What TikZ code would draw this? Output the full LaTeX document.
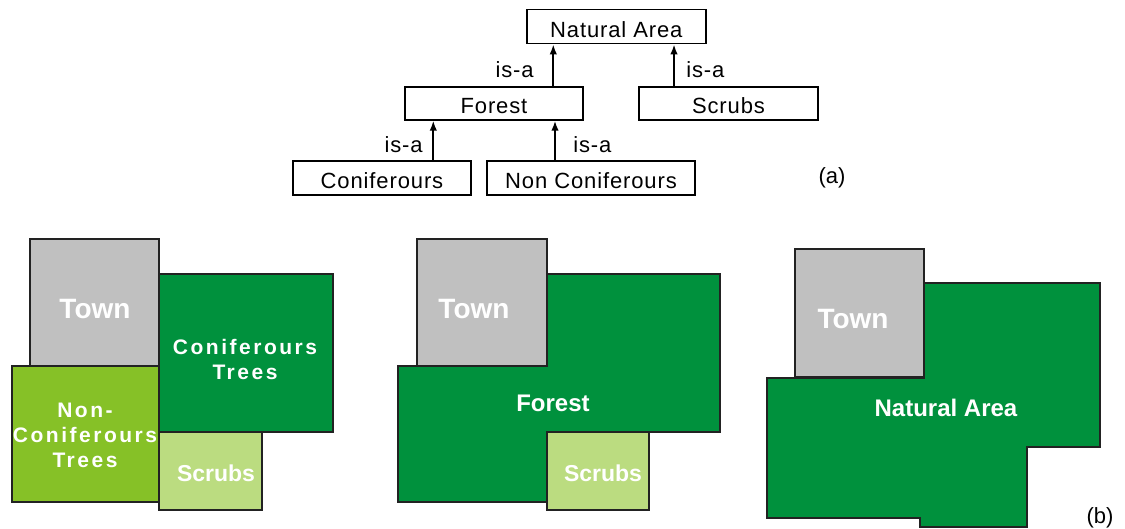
\documentclass[tikz,border=0pt]{standalone}
\usepackage{fontspec}
\setmainfont{Liberation Sans}
\newfontfamily\treefont[LetterSpace=4]{Liberation Sans}
\newfontfamily\widefont[LetterSpace=12]{Liberation Sans}
\usetikzlibrary{arrows.meta}

\definecolor{towngray}{HTML}{C0C0C0}
\definecolor{forestgreen}{HTML}{00913D}
\definecolor{leafgreen}{HTML}{86C127}
\definecolor{scrubgreen}{HTML}{BBDC80}
\definecolor{edgeline}{HTML}{222222}

\tikzset{
  cls/.style={draw=black, line width=1.5pt, minimum height=34pt, inner sep=0pt,
    text height=21pt, text depth=0pt,
    font=\treefont\fontsize{22}{25}\selectfont},
  isa/.style={line width=1.7pt, -{Latex[length=10pt,width=7.5pt]}},
  isalabel/.style={inner sep=0pt, font=\treefont\fontsize{22}{25}\selectfont},
  tag/.style={inner sep=0pt, font=\fontsize{22}{25}\selectfont},
  region/.style={draw=edgeline, line width=2pt, line join=miter},
  maptext/.style={text=white, inner sep=0pt, align=center,
    font=\bfseries\fontsize{#1}{25}\selectfont},
  widetext/.style={text=white, inner sep=0pt, align=center,
    font=\widefont\bfseries\fontsize{21}{25}\selectfont},
}

\begin{document}
\begin{tikzpicture}[x=1pt, y=-1pt]
\useasboundingbox (0,0) rectangle (1125,529);

% ---- class hierarchy ----
\node[cls, minimum width=179pt] (na)   at (616.3,26.7) {Natural Area};
\node[cls, minimum width=178pt, minimum height=33pt] (forest) at (494,103.5) {Forest};
\node[cls, minimum width=179pt, minimum height=33pt] (scrubs) at (728.5,103.5) {Scrubs};
\node[cls, minimum width=178pt] (conif)  at (382,178) {Coniferours};
\node[cls, minimum width=208pt] (nconif) at (591,178) {Non Coniferours};

\draw[isa] ([xshift=59.3pt]forest.north) -- ([xshift=59.3pt]forest.north |- na.south)
  node[isalabel, midway, left=18.8pt, yshift=-4.5pt] {is-a};
\draw[isa] ([xshift=-54.5pt]scrubs.north) -- ([xshift=-54.5pt]scrubs.north |- na.south)
  node[isalabel, midway, right=11.5pt, yshift=-4.5pt] {is-a};
\draw[isa] ([xshift=51.3pt]conif.north) -- ([xshift=51.3pt]conif.north |- forest.south)
  node[isalabel, midway, left=9.8pt, yshift=-4.5pt] {is-a};
\draw[isa] ([xshift=-36pt]nconif.north) -- ([xshift=-36pt]nconif.north |- forest.south)
  node[isalabel, midway, right=17.5pt, yshift=-4.5pt] {is-a};

\node[tag] (taga) at (832,178) {(a)};

% ---- map 1: separate classes ----
\draw[region, fill=towngray]   (30,239)  rectangle (159,366);
\draw[region, fill=forestgreen] (159,274) rectangle (333,432);
\draw[region, fill=leafgreen]  (12,366)  rectangle (159,502);
\draw[region, fill=scrubgreen] (159,432) rectangle (262,510);
\node[maptext=28] (town1) at (95,309) {Town};
\node[widetext] (conif1) at (245,359.5) {Coniferours\\Trees};
\node[widetext] (nconif1) at (85,435) {Non-\\Coniferours\\Trees};
\node[maptext=23] (scrub1) at (216,473) {Scrubs};

% ---- map 2: forest merged ----
\draw[region, fill=forestgreen] (398,366) -- (547,366) -- (547,274) -- (720,274)
  -- (720,432) -- (547,432) -- (547,502) -- (398,502) -- cycle;
\draw[region, fill=towngray]   (417,239) rectangle (547,366);
\draw[region, fill=scrubgreen] (547,432) rectangle (649,510);
\node[maptext=28] (town2) at (474,309) {Town};
\node[maptext=24] (forest2) at (553,403) {Forest};
\node[maptext=23] (scrub2) at (603,473) {Scrubs};

% ---- map 3: natural area merged ----
\draw[region, fill=forestgreen] (767,378) -- (924,378) -- (924,283) -- (1100,283)
  -- (1100,447) -- (1027,447) -- (1027,527) -- (920,527) -- (920,518) -- (767,518) -- cycle;
\draw[region, fill=towngray] (795,249) rectangle (924,377);
\node[maptext=28] (town3) at (853,319) {Town};
\node[maptext=24] (na3) at (946,408) {Natural Area};

\node[tag] (tagb) at (1100,518) {(b)};
\end{tikzpicture}
\end{document}
